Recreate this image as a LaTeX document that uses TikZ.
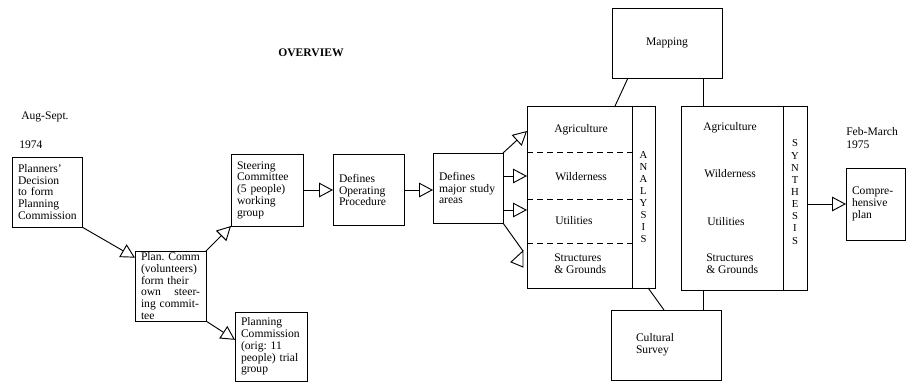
\documentclass[tikz,border=0pt]{standalone}
\usepackage{fontspec}
\setmainfont{Liberation Serif}
\usetikzlibrary{arrows.meta, positioning}

\tikzset{
  box/.style={draw, line width=0.7pt, outer sep=0pt, inner xsep=4.5pt, inner ysep=0pt, align=left, font=\fontsize{8.7}{8.8}\selectfont\frenchspacing},
  flow/.style={line width=0.7pt, -{Triangle[open,length=10.5pt,width=11pt]}},
  link/.style={line width=0.7pt},
  area/.style={inner sep=0pt, align=left, font=\fontsize{8.7}{9}\selectfont},
  spine/.style={inner sep=0pt, align=center, font=\fontsize{8}{9.1}\selectfont},
  divider/.style={line width=0.7pt, dash pattern=on 4.5pt off 3pt},
}

\begin{document}
\begin{tikzpicture}[x=0.75pt, y=-0.75pt]
    \useasboundingbox (0,0) rectangle (907,383);

    % dates and title
    \node[area, anchor=west] (start) at (21,117) {Aug-Sept.};
    \node[area, anchor=west] (startyr) at (19,145) {1974};
    \node[font=\fontsize{8.7}{9}\selectfont\bfseries, inner sep=0pt] (title) at (311,53) {OVERVIEW};
    \node[area, anchor=west, font=\fontsize{8.7}{9.75}\selectfont] (finish) at (846,138.5) {Feb-March\\1975};

    % left part
    \node[box, text width=43.5pt, minimum height=52.5pt] (planners) at (47,192) {Planners'\\Decision\\to form\\Planning\\Commission};
    \node[box, text width=44.25pt, minimum height=52.5pt] (comm) at (170.5,286) {\mbox{Plan. Comm}\\(volunteers)\\form their\\own\hfill steer-\\ing commit-\\tee};
    \node[box, text width=45pt, minimum height=54pt] (steer) at (267,190) {Steering\\Committee\\(5 people)\\working\\group};
    \node[box, text width=45pt, minimum height=51.75pt] (trial) at (271,346.5) {Planning\\Commission\\(orig: 11\\people) trial\\group};
    \node[box, text width=44.25pt, minimum height=53.25pt] (oper) at (368.5,190) {Defines\\Operating\\Procedure};
    \node[box, text width=43.5pt, minimum height=52.5pt] (major) at (468,188) {Defines\\major study\\areas};

    \draw[flow] (planners.south east) -- ([yshift=-5pt]comm.north west);
    \draw[flow] (comm.north east) -- (steer.south west);
    \draw[flow] (comm.south east) -- ([yshift=5pt]trial.west);
    \draw[flow] (steer.east) -- (oper.west);
    \draw[flow] (oper.east) -- (oper.east -| major.west);

    % analysis
    \node[box, minimum width=78.75pt, minimum height=136.5pt] (ana) at (579.5,197) {};
    \node[box, minimum width=17.25pt, minimum height=136.5pt, anchor=west] (anacol) at (ana.east) {};
    \node[spine] (analysis) at (anacol) {A\\N\\A\\L\\Y\\S\\I\\S};
    \draw[divider] ([yshift=-34.5pt]ana.north west) -- ([yshift=-34.5pt]ana.north east);
    \draw[divider] ([yshift=-69.75pt]ana.north west) -- ([yshift=-69.75pt]ana.north east);
    \draw[divider] ([yshift=-102.75pt]ana.north west) -- ([yshift=-102.75pt]ana.north east);
    \node[area, anchor=west] (agri1) at (554,130) {Agriculture};
    \node[area, anchor=west] (wild1) at (555,177) {Wilderness};
    \node[area, anchor=west] (util1) at (555,221) {Utilities};
    \node[area, anchor=west] (struc1) at (554,264) {Structures\\\& Grounds};

    \coordinate (in1) at (527,131);
    \coordinate (in2) at (527,176);
    \coordinate (in3) at (527,210);
    \coordinate (in4) at (523,251);
    \draw[flow] (major.north east) -- (in1);
    \draw[flow] (major.east |- in2) -- (in2);
    \draw[flow] (major.east |- in3) -- (in3);
    \draw[link] (major.south east) -- (in4);
    \draw[link] (in4) -- ++(-12,11) -- ++(12,5) -- cycle;

    % synthesis
    \node[box, minimum width=76.5pt, minimum height=138pt] (syn) at (732,198) {};
    \node[box, minimum width=18pt, minimum height=138pt, anchor=west] (syncol) at (syn.east) {};
    \node[spine, yshift=4.5pt] (synthesis) at (syncol) {S\\Y\\N\\T\\H\\E\\S\\I\\S};
    \node[area, anchor=west] (agri2) at (703,128) {Agriculture};
    \node[area, anchor=west] (wild2) at (704,174) {Wilderness};
    \node[area, anchor=west] (util2) at (707,222) {Utilities};
    \node[area, anchor=west] (struc2) at (706,264) {Structures\\\& Grounds};

    % mapping and survey
    \node[box, minimum width=82.5pt, minimum height=52.5pt, align=center] (mapping) at (667,43) {Mapping};
    \node[box, inner xsep=18.75pt, text width=45pt, minimum height=52.5pt] (survey) at (666,345) {Cultural\\Survey};

    \draw[link] ([xshift=12pt]mapping.south west) -- ([xshift=-12.75pt]ana.north east);
    \draw[link] ([xshift=16.5pt]syn.north west) -- ([xshift=16.5pt]syn.north west |- mapping.south);
    \draw[link] ([xshift=3.5pt]anacol.south) -- ([xshift=-1.5pt]survey.north);
    \draw[link] ([xshift=16.5pt]syn.south west) -- ([xshift=16.5pt]syn.south west |- survey.north);

    % result
    \node[box, text width=35.25pt, minimum height=54pt] (compre) at (875.5,204) {Compre-\\hensive\\plan};
    \draw[flow] (syncol.east |- compre.west) -- (compre.west);
\end{tikzpicture}
\end{document}
